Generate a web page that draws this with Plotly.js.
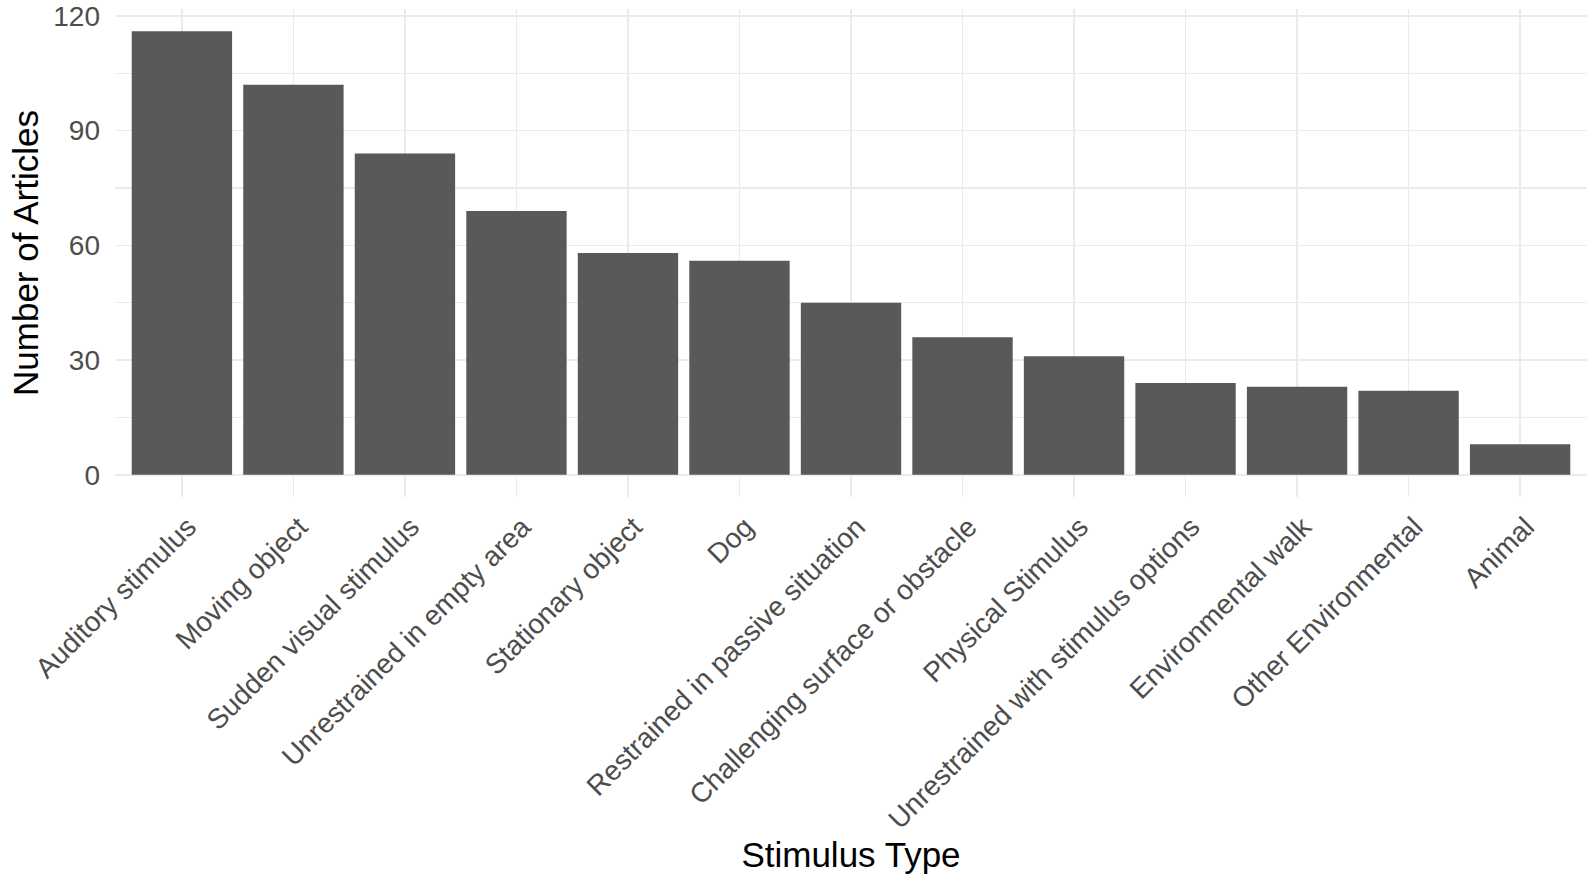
<!DOCTYPE html>
<html>
<head>
<meta charset="utf-8">
<script src="https://cdn.plot.ly/plotly-3.0.1.min.js"></script>
<style>
  html, body { margin: 0; padding: 0; background: #fff; }
  #graph { width: 1595px; height: 885px; }
</style>
</head>
<body>
<div id="graph"></div>
<script>
// stimulus categories, in the order they are plotted
var stimulusTypes = [
    'Auditory stimulus',
    'Moving object',
    'Sudden visual stimulus',
    'Unrestrained in empty area',
    'Stationary object',
    'Dog',
    'Restrained in passive situation',
    'Challenging surface or obstacle',
    'Physical Stimulus',
    'Unrestrained with stimulus options',
    'Environmental walk',
    'Other Environmental',
    'Animal'
];

// number of articles per stimulus type
var articleCounts = [116, 102, 84, 69, 58, 56, 45, 36, 31, 24, 23, 22, 8];

var yTicks = [0, 30, 60, 90, 120];

var gridColor = '#EBEBEB';
var textColor = '#4D4D4D';

var trace = {
    type: 'bar',
    x: stimulusTypes,
    y: articleCounts,
    marker: {
        color: '#595959',
        line: { width: 0 }
    },
    hoverinfo: 'x+y'
};

var layout = {
    width: 1595,
    height: 885,
    paper_bgcolor: '#ffffff',
    plot_bgcolor: '#ffffff',
    showlegend: false,
    bargap: 0.1,
    font: { family: '"Liberation Sans", Arial, sans-serif', color: textColor, size: 28 },
    margin: { l: 115, r: 8, t: 9, b: 388 },
    xaxis: {
        type: 'category',
        range: [-0.6, stimulusTypes.length - 0.4],
        showgrid: true,
        gridcolor: gridColor,
        gridwidth: 1.5,
        zeroline: false,
        showline: false,
        ticks: '',
        tickangle: -45,
        ticklabelstandoff: 7,
        ticklabelshift: 6,
        tickfont: { size: 28, color: textColor },
        automargin: 'bottom',
        title: {
            text: 'Stimulus Type',
            font: { size: 35, color: '#000000' },
            standoff: 6
        }
    },
    yaxis: {
        range: [-5.8, 121.8],
        tickvals: yTicks,
        ticktext: yTicks.map(String),
        showgrid: true,
        gridcolor: gridColor,
        gridwidth: 1.5,
        minor: { dtick: 15, showgrid: true, gridcolor: gridColor, gridwidth: 1.2 },
        zeroline: false,
        showline: false,
        ticks: '',
        ticklabelstandoff: 14,
        tickfont: { size: 28, color: textColor },
        automargin: 'left',
        title: {
            text: 'Number of Articles',
            font: { size: 35, color: '#000000' },
            standoff: 4
        }
    }
};

Plotly.newPlot('graph', [trace], layout, { staticPlot: true, displayModeBar: false });
</script>
</body>
</html>
